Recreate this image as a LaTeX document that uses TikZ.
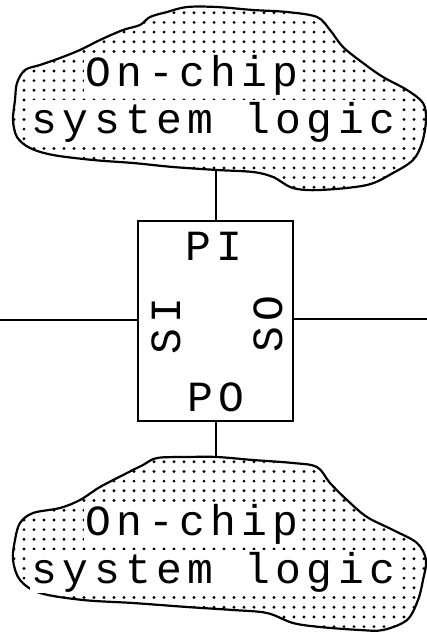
\documentclass[tikz,border=0pt]{standalone}
\usepackage{fontspec}
\newfontfamily\plotfont[LetterSpace=12.5]{Liberation Mono}
\begin{document}
\begin{tikzpicture}[x=1pt,y=-1pt,
  cloudline/.style={line width=2.2pt, line join=round, draw=black},
  dot/.style={fill=black},
  wire/.style={line width=1.6pt},
  boxshape/.style={draw, line width=1.8pt, minimum width=155pt, minimum height=200pt, inner sep=0pt},
  cloudtext/.style={font=\plotfont\fontsize{43}{43}\selectfont, fill=white, inner sep=1.5pt, anchor=base west},
  lbl/.style={font=\plotfont\fontsize{43}{43}\selectfont, inner sep=0pt}]
\useasboundingbox (0,0) rectangle (427,640);

% block
\node[boxshape] (box) at (215.5,321) {};
\node[lbl, anchor=base] (pi) at (214,260) {PI};
\node[lbl, anchor=base] (po) at (216,411) {PO};
\node[lbl, rotate=90, anchor=base] (si) at (180,326) {SI};
\node[lbl, rotate=90, anchor=base] (so) at (282,324) {SO};

% connectors
\coordinate (c1) at (216,170);
\coordinate (c2) at (216,457);
\coordinate (wl) at (0,320);
\coordinate (wr) at (427,319);
\draw[wire] (c1) -- (c1 |- box.north);
\draw[wire] (box.south -| c2) -- (c2);
\draw[wire] (wl) -- (wl -| box.west);
\draw[wire] (box.east |- wr) -- (wr);

% top cloud
\begin{scope}
\clip plot[smooth cycle, tension=0.55] coordinates {
 (15,100) (17,83) (25,70) (40,65) (60,58) (80,50) (100,40) (123,30) (140,25)
 (150,17) (167,12) (187,7) (217,7) (253,10) (287,12) (317,17) (330,30) (343,47)
 (363,63) (383,77) (407,90) (423,103) (426,120) (422,143) (413,160) (393,173)
 (367,185) (320,190) (293,188) (273,177) (253,172) (217,170) (173,167) (133,163)
 (93,160) (53,155) (30,148) (17,137) (13,120)};
\foreach \i in {0,...,42} \foreach \j in {0,...,20}
  \fill[dot] (\i*10+4,\j*9.7+3) circle (1.6pt);
\end{scope}
\draw[cloudline] plot[smooth cycle, tension=0.55] coordinates {
 (15,100) (17,83) (25,70) (40,65) (60,58) (80,50) (100,40) (123,30) (140,25)
 (150,17) (167,12) (187,7) (217,7) (253,10) (287,12) (317,17) (330,30) (343,47)
 (363,63) (383,77) (407,90) (423,103) (426,120) (422,143) (413,160) (393,173)
 (367,185) (320,190) (293,188) (273,177) (253,172) (217,170) (173,167) (133,163)
 (93,160) (53,155) (30,148) (17,137) (13,120)};
\node[cloudtext] (t1) at (84,86) {On-chip};
\node[cloudtext] (t2) at (30,133) {system logic};

% bottom cloud
\begin{scope}
\clip plot[smooth cycle, tension=0.55] coordinates {
 (143,465) (157,458) (187,457) (217,457) (253,460) (293,463) (317,467) (330,483)
 (347,500) (367,517) (393,530) (417,543) (426,560) (423,580) (418,600) (407,620)
 (383,630) (360,630) (320,627) (293,623) (267,613) (233,610) (187,607) (133,603)
 (83,600) (40,593) (20,580) (13,560) (15,540) (20,523) (33,513) (60,508) (80,500)
 (100,487) (127,473)};
\foreach \i in {0,...,42} \foreach \j in {0,...,20}
  \fill[dot] (\i*10+4,\j*9.7+452) circle (1.6pt);
\end{scope}
\draw[cloudline] plot[smooth cycle, tension=0.55] coordinates {
 (143,465) (157,458) (187,457) (217,457) (253,460) (293,463) (317,467) (330,483)
 (347,500) (367,517) (393,530) (417,543) (426,560) (423,580) (418,600) (407,620)
 (383,630) (360,630) (320,627) (293,623) (267,613) (233,610) (187,607) (133,603)
 (83,600) (40,593) (20,580) (13,560) (15,540) (20,523) (33,513) (60,508) (80,500)
 (100,487) (127,473)};
\node[cloudtext] (b1) at (84,535) {On-chip};
\node[cloudtext] (b2) at (30,583) {system logic};
\end{tikzpicture}
\end{document}
